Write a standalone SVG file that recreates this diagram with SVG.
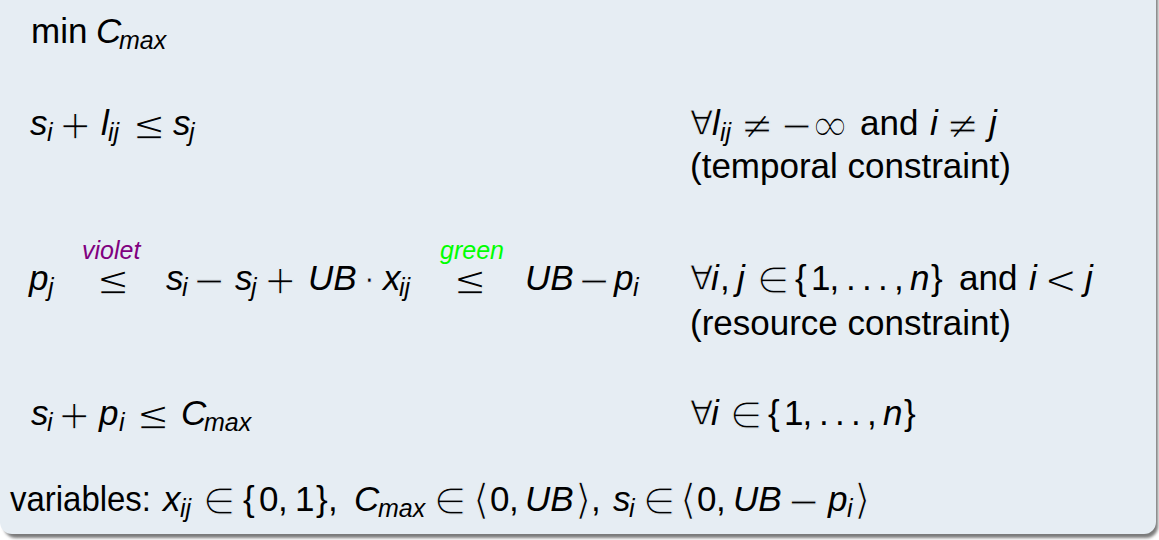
<svg xmlns="http://www.w3.org/2000/svg" width="1159" height="540" viewBox="0 0 1159 540">
<style>
.t{font-family:"Liberation Sans",Arial,sans-serif;font-size:35px;fill:#000}
.m{font-family:"Liberation Sans",Arial,sans-serif;font-size:35px;font-style:italic;fill:#000}
.s{font-family:"Liberation Sans",Arial,sans-serif;font-size:25px;font-style:italic;fill:#000}
.o{font-family:"DejaVu Sans",sans-serif;font-size:40px;fill:#000;stroke:#e6edf3;stroke-width:1.3px}
.e{font-family:"DejaVu Sans",sans-serif;font-size:37px;fill:#000;stroke:#e6edf3;stroke-width:1.1px}
.q{font-family:"DejaVu Sans",sans-serif;font-size:34px;fill:#000;stroke:#e6edf3;stroke-width:0.9px}
.a{font-family:"DejaVu Sans",sans-serif;font-size:42px;fill:#000;stroke:#e6edf3;stroke-width:1.2px}
.inf{font-family:"DejaVu Sans",sans-serif;font-size:48px;fill:#000;stroke:#e6edf3;stroke-width:1.5px}
.vio{fill:#800080}
.grn{fill:#00ff00}
</style>
<defs>
<filter id="sh" x="-5%" y="-5%" width="110%" height="115%"><feGaussianBlur stdDeviation="1.6"/></filter>
</defs>
<rect x="0" y="0" width="1159" height="540" fill="#ffffff"/>
<g id="block">
<rect x="4" y="-20" width="1154" height="558" rx="12" fill="#7a7a7a" filter="url(#sh)"/>
<rect x="0" y="-20" width="1156" height="554" rx="12" fill="#e6edf3"/>
</g>
<g id="objective">
<text class="t" x="31" y="43">min</text>
<text class="m" x="96" y="43">C</text>
<text class="s" x="119" y="49">max</text>
</g>
<g id="temporal">
<text class="m" x="30" y="135">s</text>
<text class="s" x="47" y="141">i</text>
<text class="o" x="58.5" y="139">+</text>
<text class="m" x="101" y="135">l</text>
<text class="s" x="108" y="141">ij</text>
<text class="o" x="132.5" y="139">≤</text>
<text class="m" x="173" y="135">s</text>
<text class="s" x="189" y="141">j</text>
<text class="q" x="690" y="135">∀</text>
<text class="m" x="712" y="135">l</text>
<text class="s" x="720" y="141">ij</text>
<text class="o" x="740.5" y="139">≠</text>
<text class="o" x="780" y="139">−</text>
<text class="inf" x="810" y="141">∞</text>
<text class="t" x="860" y="135">and</text>
<text class="m" x="930" y="135">i</text>
<text class="o" x="946" y="139">≠</text>
<text class="m" x="989" y="135">j</text>
<text class="t" x="690" y="178">(temporal constraint)</text>
</g>
<g id="resource">
<text class="m" x="29" y="290">p</text>
<text class="s" x="48" y="296">j</text>
<text class="s vio" x="82" y="259">violet</text>
<text class="o" x="96.5" y="294">≤</text>
<text class="m" x="166" y="290">s</text>
<text class="s" x="182" y="296">i</text>
<text class="o" x="192.5" y="294">−</text>
<text class="m" x="235" y="290">s</text>
<text class="s" x="251" y="296">j</text>
<text class="o" x="263.5" y="294">+</text>
<text class="m" x="308" y="290">UB</text>
<text class="q" x="364" y="292">⋅</text>
<text class="m" x="383" y="290">x</text>
<text class="s" x="399" y="296">ij</text>
<text class="s grn" x="440" y="259">green</text>
<text class="o" x="453.5" y="294">≤</text>
<text class="m" x="525" y="290">UB</text>
<text class="o" x="577.5" y="294">−</text>
<text class="m" x="614" y="290">p</text>
<text class="s" x="633" y="296">i</text>
<text class="q" x="690" y="290">∀</text>
<text class="m" x="711" y="290">i</text>
<text class="t" x="720" y="290">,</text>
<text class="m" x="737" y="290">j</text>
<text class="e" x="757" y="293">∈</text>
<text class="t" x="795" y="290">{</text>
<text class="t" x="811" y="290">1</text>
<text class="t" x="829.5" y="290">,</text>
<text class="t" x="846" y="290">.</text>
<text class="t" x="862" y="290">.</text>
<text class="t" x="878" y="290">.</text>
<text class="t" x="894" y="290">,</text>
<text class="m" x="910" y="290">n</text>
<text class="t" x="931" y="290">}</text>
<text class="t" x="959" y="290">and</text>
<text class="m" x="1029" y="290">i</text>
<text class="o" x="1044" y="294">&lt;</text>
<text class="m" x="1085" y="290">j</text>
<text class="t" x="690" y="335">(resource constraint)</text>
</g>
<g id="makespan">
<text class="m" x="31" y="425">s</text>
<text class="s" x="47" y="431">i</text>
<text class="o" x="57.5" y="429">+</text>
<text class="m" x="99" y="425">p</text>
<text class="s" x="119" y="431">i</text>
<text class="o" x="136.5" y="429">≤</text>
<text class="m" x="181" y="425">C</text>
<text class="s" x="204" y="431">max</text>
<text class="q" x="690" y="425">∀</text>
<text class="m" x="711" y="425">i</text>
<text class="e" x="730" y="428">∈</text>
<text class="t" x="768" y="425">{</text>
<text class="t" x="784" y="425">1</text>
<text class="t" x="802.5" y="425">,</text>
<text class="t" x="819" y="425">.</text>
<text class="t" x="835" y="425">.</text>
<text class="t" x="851" y="425">.</text>
<text class="t" x="867" y="425">,</text>
<text class="m" x="883" y="425">n</text>
<text class="t" x="904" y="425">}</text>
</g>
<g id="variables">
<text class="t" x="10" y="511" textLength="141" lengthAdjust="spacingAndGlyphs">variables:</text>
<text class="m" x="163" y="511">x</text>
<text class="s" x="180" y="517">ij</text>
<text class="e" x="203" y="514">∈</text>
<text class="t" x="243" y="511">{</text>
<text class="t" x="259" y="511">0</text>
<text class="t" x="278" y="511">,</text>
<text class="t" x="295" y="511">1</text>
<text class="t" x="316" y="511">}</text>
<text class="t" x="328" y="511">,</text>
<text class="m" x="354" y="511">C</text>
<text class="s" x="378" y="517">max</text>
<text class="e" x="434" y="514">∈</text>
<text class="a" x="473" y="514">⟨</text>
<text class="t" x="490" y="511">0</text>
<text class="t" x="509" y="511">,</text>
<text class="m" x="525" y="511">UB</text>
<text class="a" x="575" y="514">⟩</text>
<text class="t" x="591" y="511">,</text>
<text class="m" x="613" y="511">s</text>
<text class="s" x="629" y="517">i</text>
<text class="e" x="643" y="514">∈</text>
<text class="a" x="680" y="514">⟨</text>
<text class="t" x="697" y="511">0</text>
<text class="t" x="716" y="511">,</text>
<text class="m" x="733" y="511">UB</text>
<text class="o" x="787" y="515">−</text>
<text class="m" x="828" y="511">p</text>
<text class="s" x="847" y="517">i</text>
<text class="a" x="854" y="514">⟩</text>
</g>
</svg>
